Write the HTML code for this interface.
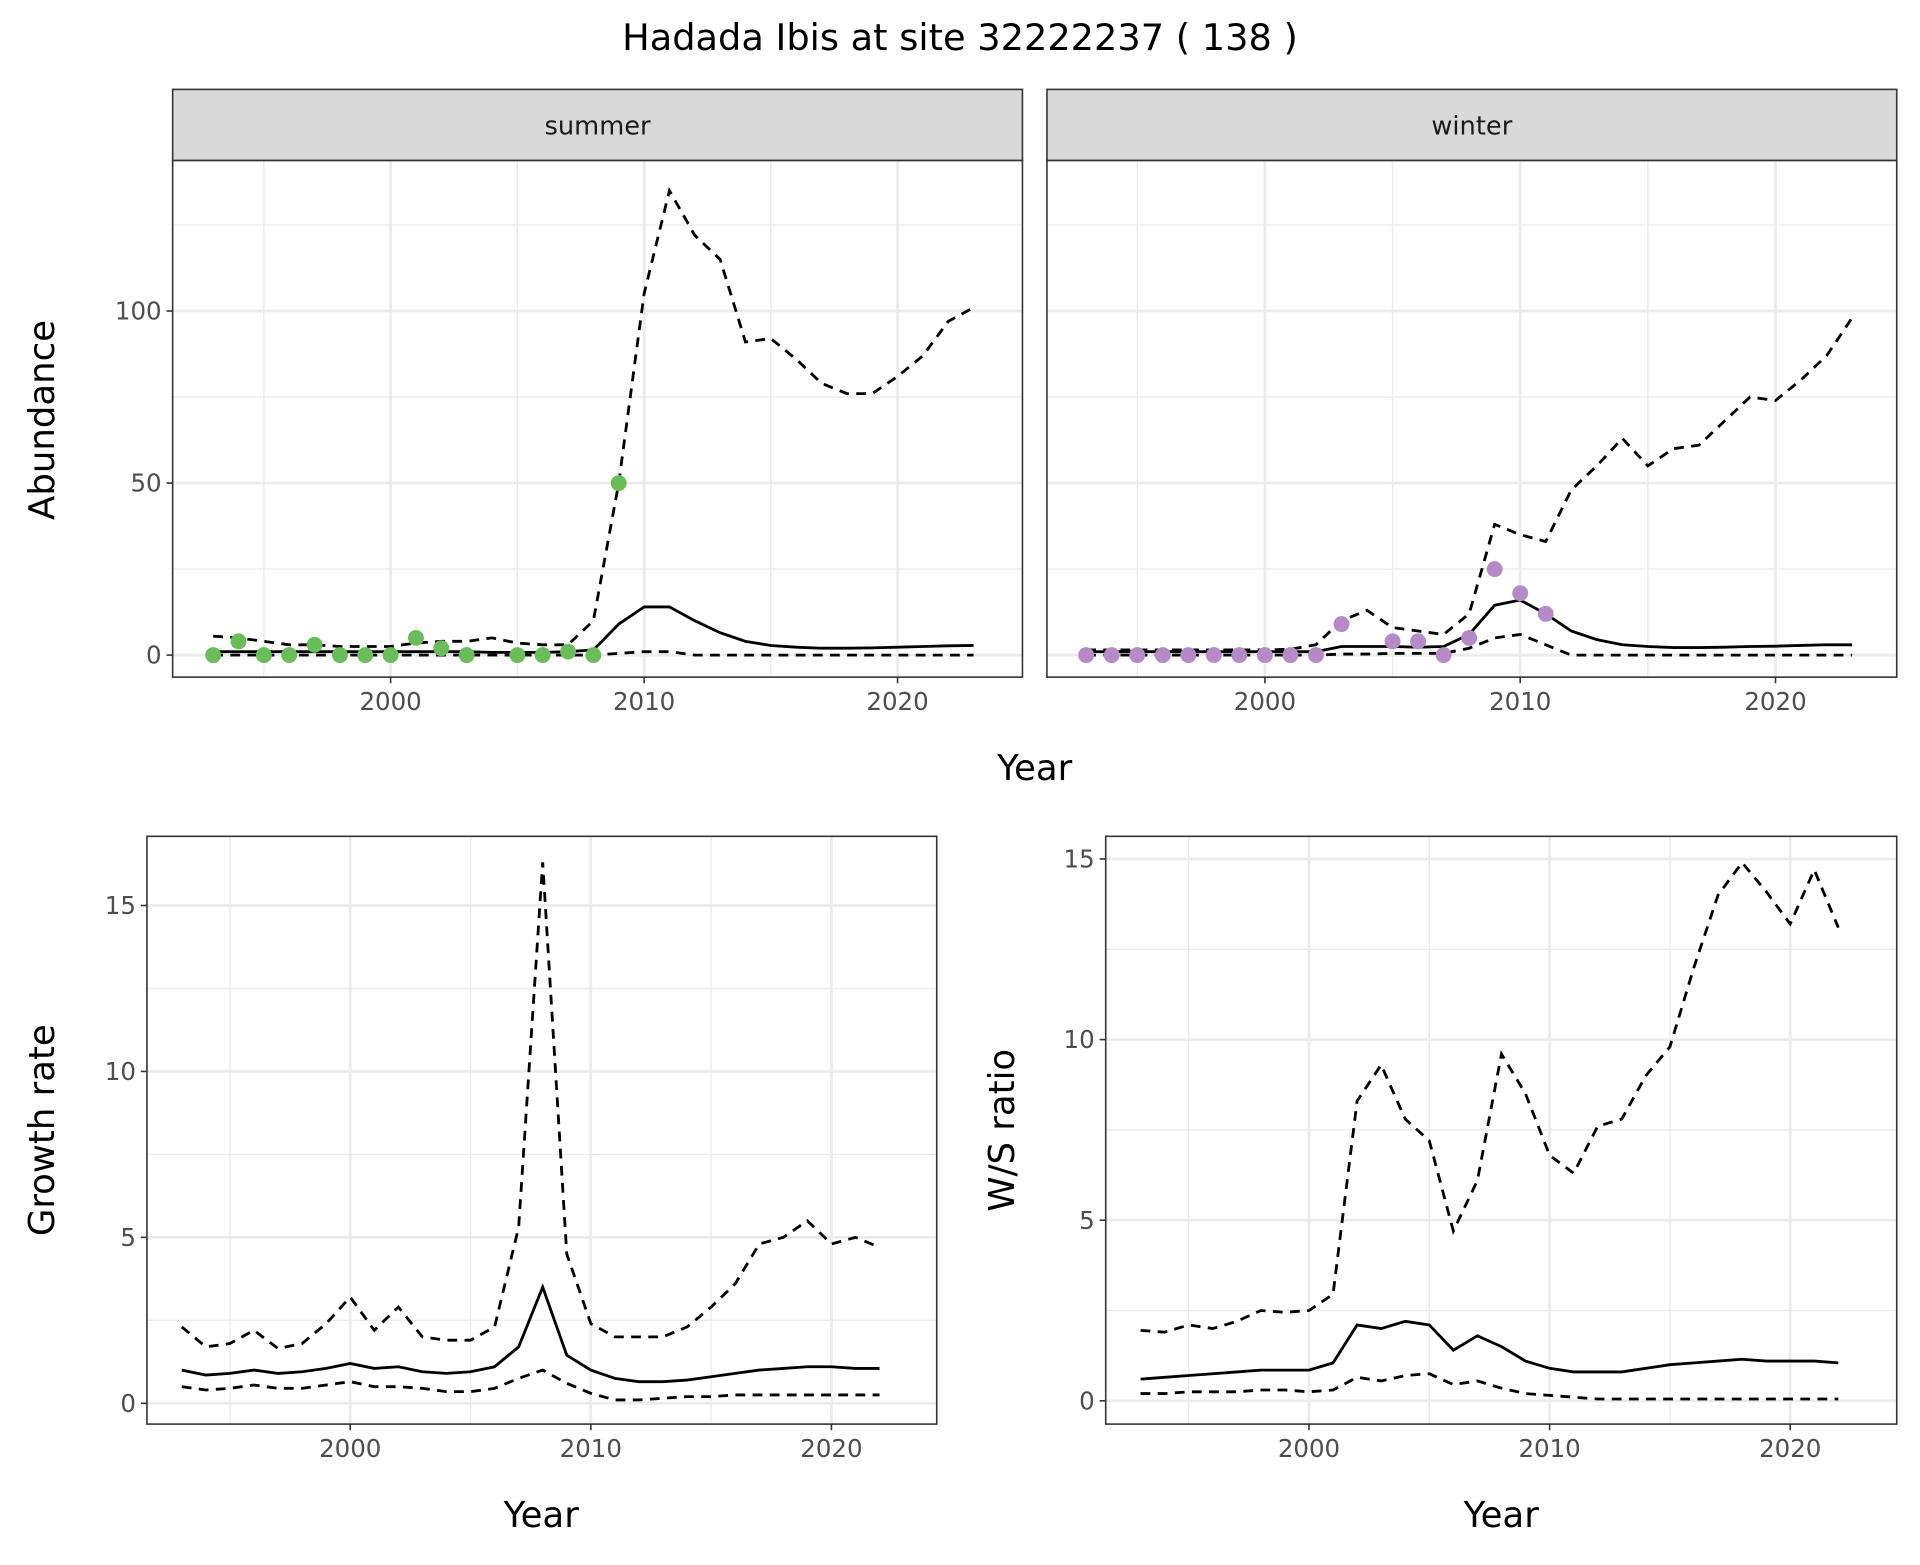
<!DOCTYPE html>
<html><head><meta charset="utf-8"><style>
html,body{margin:0;padding:0;background:#fff;}
svg text{font-family:"DejaVu Sans","Liberation Sans",sans-serif;}
</style></head><body>
<svg id="chart" width="1920" height="1560" viewBox="0 0 1568 1274" xmlns="http://www.w3.org/2000/svg">
<text x="784" y="41" font-size="30" text-anchor="middle" fill="#000">Hadada Ibis at site 32222237 ( 138 )</text>
</svg>
<script>
const years93_23=[1993,1994,1995,1996,1997,1998,1999,2000,2001,2002,2003,2004,2005,2006,2007,2008,2009,2010,2011,2012,2013,2014,2015,2016,2017,2018,2019,2020,2021,2022,2023];
const years93_22=years93_23.slice(0,30);
const summerPtYears=[1993,1994,1995,1996,1997,1998,1999,2000,2001,2002,2003,2005,2006,2007,2008,2009];
const summerPts=[0,4,0,0,3,0,0,0,5,2,0,0,0,1,0,50];
const summerMid=[1,1,1,1,1,1,1,1,1,1,1,0.8,0.8,0.8,1,1.5,9,14,14,10,6.5,4,2.8,2.3,2,2,2.1,2.3,2.5,2.7,2.8];
const summerHi=[5.5,5,4,3,3,2.5,2.5,2.5,3.5,4,4,5,3.5,3,3,10,50,105,135,122,115,91,92,86,79,76,76,81,87,97,101];
const summerLo=[0,0,0,0,0,0,0,0,0,0,0,0,0,0,0,0,0.5,1,1,0,0,0,0,0,0,0,0,0,0,0,0];
const winterPtYears=[1993,1994,1995,1996,1997,1998,1999,2000,2001,2002,2003,2005,2006,2007,2008,2009,2010,2011];
const winterPts=[0,0,0,0,0,0,0,0,0,0,9,4,4,0,5,25,18,12];
const winterMid=[1,1,1,1,1,1,1,1,1,1,2.5,2.5,2.5,2.3,2.5,6,14.5,16,12,7,4.5,3,2.5,2.2,2.2,2.3,2.5,2.6,2.8,3,3];
const winterHi=[1.5,1.5,1.5,1.5,1.5,1.5,1.5,1.5,1.7,3,10,13,8,7,6,12,38,35,33,48,55,63,55,60,61,68,75,74,80,87,98];
const winterLo=[0,0,0,0,0,0,0,0,0,0,0.3,0.3,0.5,0.5,0.5,2,5,6,3,0,0,0,0,0,0,0,0,0,0,0,0];
const growthMid=[1.0,0.85,0.9,1.0,0.9,0.95,1.05,1.2,1.05,1.1,0.95,0.9,0.95,1.1,1.7,3.5,1.45,1.0,0.75,0.65,0.65,0.7,0.8,0.9,1.0,1.05,1.1,1.1,1.05,1.05];
const growthHi=[2.3,1.7,1.8,2.2,1.65,1.8,2.4,3.2,2.2,2.9,2.0,1.9,1.9,2.3,5.3,16.3,4.5,2.4,2.0,2.0,2.0,2.3,2.9,3.6,4.8,5.0,5.5,4.8,5.0,4.7];
const growthLo=[0.5,0.4,0.45,0.55,0.45,0.45,0.55,0.65,0.5,0.5,0.45,0.35,0.35,0.45,0.75,1.0,0.6,0.3,0.1,0.1,0.15,0.2,0.2,0.25,0.25,0.25,0.25,0.25,0.25,0.25];
const ratioMid=[0.6,0.65,0.7,0.75,0.8,0.85,0.85,0.85,1.05,2.1,2.0,2.2,2.1,1.4,1.8,1.5,1.1,0.9,0.8,0.8,0.8,0.9,1.0,1.05,1.1,1.15,1.1,1.1,1.1,1.05];
const ratioHi=[1.95,1.9,2.1,2.0,2.2,2.5,2.45,2.5,2.95,8.3,9.3,7.8,7.2,4.7,6.1,9.6,8.5,6.8,6.3,7.6,7.8,9.0,9.8,12.0,14.0,14.9,14.1,13.2,14.7,13.1];
const ratioLo=[0.2,0.2,0.25,0.25,0.25,0.3,0.3,0.25,0.3,0.65,0.55,0.7,0.75,0.45,0.55,0.35,0.2,0.15,0.1,0.05,0.05,0.05,0.05,0.05,0.05,0.05,0.05,0.05,0.05,0.05];
const xTicks=[2000,2010,2020];
const xMinor=[1995,2005,2015];

const svg=document.getElementById('chart');
const NS='http://www.w3.org/2000/svg';
function mk(tag,attrs,parent){const e=document.createElementNS(NS,tag);for(const k in attrs)e.setAttribute(k,attrs[k]);(parent||svg).appendChild(e);return e;}

function panel(cfg){
  const g=mk('g',{});
  
  
  const {x0,x1,y0,y1}=cfg;
  const sx=v=>cfg.px0+(v-2000)*cfg.pxYr;
  const sy=v=>cfg.py0-v*cfg.pyU;
  mk('rect',{x:x0,y:y0,width:x1-x0,height:y1-y0,fill:'#fff'},g);
  cfg.yMinor.forEach(v=>mk('line',{x1:x0,x2:x1,y1:sy(v),y2:sy(v),stroke:'#ebebeb','stroke-width':1.1},g));
  xMinor.forEach(v=>mk('line',{x1:sx(v),x2:sx(v),y1:y0,y2:y1,stroke:'#ebebeb','stroke-width':1.1},g));
  cfg.yTicks.forEach(v=>mk('line',{x1:x0,x2:x1,y1:sy(v),y2:sy(v),stroke:'#ebebeb','stroke-width':2.2},g));
  xTicks.forEach(v=>mk('line',{x1:sx(v),x2:sx(v),y1:y0,y2:y1,stroke:'#ebebeb','stroke-width':2.2},g));
  const line=(xs,ys,dash,nm)=>{const p=mk('polyline',{points:xs.map((x,i)=>sx(x)+','+sy(ys[i])).join(' '),fill:'none',stroke:'#000','stroke-width':2.3,'stroke-dasharray':dash?'8,6':'none'},g);
    
    };
  line(cfg.xs,cfg.hi,true,'upper-bound-line');
  line(cfg.xs,cfg.lo,true,'lower-bound-line');
  line(cfg.xs,cfg.mid,false,'estimate-line');
  if(cfg.pts){cfg.pts.forEach((v,i)=>{const c=mk('circle',{cx:sx(cfg.ptYears[i]),cy:sy(v),r:6.5,fill:cfg.ptColor},g);
    
    });}
  mk('rect',{x:x0,y:y0,width:x1-x0,height:y1-y0,fill:'none',stroke:'#333','stroke-width':1.3},g);
  xTicks.forEach(v=>{mk('line',{x1:sx(v),x2:sx(v),y1:y1,y2:y1+5,stroke:'#333','stroke-width':1.3},g);
    const t=mk('text',{x:sx(v),y:y1+27,'font-size':20,'text-anchor':'middle',fill:'#4d4d4d'},g);t.textContent=v;
    
    });
  if(cfg.showY){cfg.yTicks.forEach(v=>{mk('line',{x1:x0-5,x2:x0,y1:sy(v),y2:sy(v),stroke:'#333','stroke-width':1.3},g);
    const t=mk('text',{x:x0-9,y:sy(v)+7,'font-size':20,'text-anchor':'end',fill:'#4d4d4d'},g);t.textContent=v;
    
    });}
  if(cfg.strip){const s=mk('rect',{x:x0,y:73,width:x1-x0,height:y0-73,fill:'#d9d9d9',stroke:'#333','stroke-width':1.3},g);
    
    
    const t=mk('text',{x:(x0+x1)/2,y:110,'font-size':21,'text-anchor':'middle',fill:'#1a1a1a'},g);t.textContent=cfg.strip;
    
    }
}
panel({name:'summer-panel',x0:141,x1:835,y0:131,y1:553,px0:319,pxYr:20.7,py0:535,pyU:2.81,yTicks:[0,50,100],yMinor:[25,75,125],xs:years93_23,mid:summerMid,hi:summerHi,lo:summerLo,pts:summerPts,ptYears:summerPtYears,ptColor:'#6abd5a',showY:true,strip:'summer'});
panel({name:'winter-panel',x0:855,x1:1549,y0:131,y1:553,px0:1033,pxYr:20.85,py0:535,pyU:2.81,yTicks:[0,50,100],yMinor:[25,75,125],xs:years93_23,mid:winterMid,hi:winterHi,lo:winterLo,pts:winterPts,ptYears:winterPtYears,ptColor:'#b58ac6',showY:false,strip:'winter'});
panel({name:'growth-panel',x0:120,x1:765,y0:683,y1:1163,px0:286,pxYr:19.65,py0:1146,pyU:27.1,yTicks:[0,5,10,15],yMinor:[2.5,7.5,12.5],xs:years93_22,mid:growthMid,hi:growthHi,lo:growthLo,showY:true});
panel({name:'ratio-panel',x0:903,x1:1549,y0:683,y1:1163,px0:1069,pxYr:19.65,py0:1144,pyU:29.5,yTicks:[0,5,10,15],yMinor:[2.5,7.5,12.5],xs:years93_22,mid:ratioMid,hi:ratioHi,lo:ratioLo,showY:true});
function label(txt,x,y,rot,nm){const t=mk('text',{x:x,y:y,'font-size':29,'text-anchor':'middle',fill:'#000',transform:rot?`rotate(-90 ${x} ${y})`:''});t.textContent=txt;
  
  }
label('Year',845,637,false,'x-axis-title-top');
label('Abundance',44,343,true,'y-axis-title-abundance');
label('Year',442,1247,false,'x-axis-title-growth');
label('Growth rate',44,923,true,'y-axis-title-growth');
label('W/S ratio',828,923,true,'y-axis-title-ratio');
label('Year',1226,1247,false,'x-axis-title-ratio');
</script>
</body></html>
